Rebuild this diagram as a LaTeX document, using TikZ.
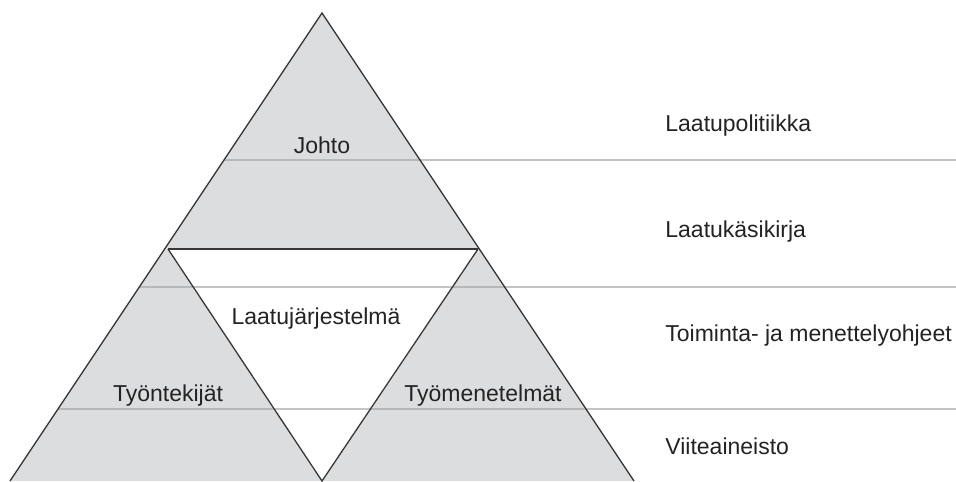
\documentclass[tikz,border=0pt]{standalone}
\usepackage{fontspec}
\setmainfont{Liberation Sans}
\usetikzlibrary{calc}
\definecolor{pyrfill}{RGB}{220,221,223}
\definecolor{edgegray}{RGB}{55,55,55}
\definecolor{guidegray}{RGB}{165,165,165}
\definecolor{txtgray}{RGB}{35,35,35}
\tikzset{
  edge/.style={draw=edgegray, line width=0.65pt},
  guide/.style={draw=guidegray, line width=0.7pt},
  lbl/.style={text=txtgray, font=\fontsize{11.5}{13}\selectfont, inner sep=0pt},
}
\begin{document}
\begin{tikzpicture}[x=0.5pt, y=-0.5pt]
\useasboundingbox (0,0) rectangle (956,481);
\coordinate (apex) at (322,13);
\coordinate (topL) at (168,249);
\coordinate (topR) at (478,249);
\coordinate (botL) at (10,481);
\coordinate (botM) at (322,481);
\coordinate (botR) at (634,481);
\fill[pyrfill] (apex) -- (botL) -- (botR) -- cycle; % pyramid
\fill[white] (topL) -- (topR) -- (botM) -- cycle; % Laatujarjestelma
% level lines
\foreach \yy in {160,287,409} {
  \pgfmathsetmacro\tt{(\yy-13)/468}
  \draw[guide] ($(apex)!\tt!(botL)$) -- (956,\yy);
}
\draw[edge] (botL) -- (apex) -- (botR);
\draw[edge] (topL) -- (botM) -- (topR);
\draw[edge, line width=1.2pt] (topL) -- (topR);
\node[lbl, anchor=base] (johto) at (322,153) {Johto};
\node[lbl, anchor=base] (jarjestelma) at (316,324) {Laatujärjestelmä};
\node[lbl, anchor=base] (tyontekijat) at (168,401) {Työntekijät};
\node[lbl, anchor=base] (tyomenetelmat) at (483,401) {Työmenetelmät};
\node[lbl, anchor=base west] (politiikka) at (665,131) {Laatupolitiikka};
\node[lbl, anchor=base west] (kasikirja) at (665,237) {Laatukäsikirja};
\node[lbl, anchor=base west] (ohjeet) at (665,341) {Toiminta- ja menettelyohjeet};
\node[lbl, anchor=base west] (viite) at (665,454) {Viiteaineisto};
\end{tikzpicture}
\end{document}
